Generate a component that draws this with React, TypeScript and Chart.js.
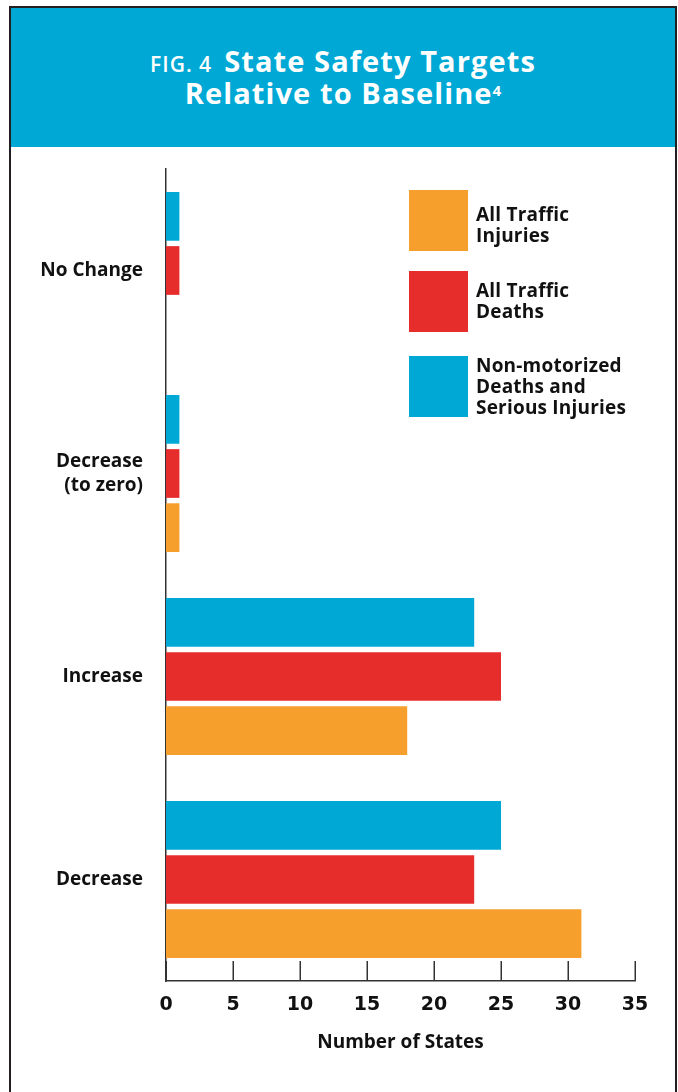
import { useEffect, useRef } from "react";
import { Chart, registerables } from "chart.js";

Chart.register(...registerables);

// Categories, top to bottom
const categories: (string | string[])[] = [
  "No Change",
  ["Decrease", "(to zero)"],
  "Increase",
  "Decrease",
];

// Number of states per category, per target type
const nonMotorized = [1, 1, 23, 25];
const trafficDeaths = [1, 1, 25, 23];
const trafficInjuries = [0, 1, 18, 31];

const xTickValues = [0, 5, 10, 15, 20, 25, 30, 35];

const BLUE = "#00a8d5";
const RED = "#e72d2c";
const ORANGE = "#f79f2d";
const INK = "#111111";
const AXIS = "#333333";

const LABEL_FONT = "'Open Sans', sans-serif";
const TICK_FONT = "'DejaVu Sans', sans-serif";

const legendItems = [
  { color: ORANGE, lines: ["All Traffic", "Injuries"], top: 190, shift: 4 },
  { color: RED, lines: ["All Traffic", "Deaths"], top: 271, shift: -1 },
  { color: BLUE, lines: ["Non-motorized", "Deaths and", "Serious Injuries"], top: 356, shift: 0 },
];

// Short tick marks that rise from the x axis into the plot
const innerTicks = {
  id: "innerTicks",
  afterDatasetsDraw(chart: any) {
    const { ctx, chartArea } = chart;
    const x = chart.scales.x;
    ctx.save();
    ctx.strokeStyle = AXIS;
    ctx.lineWidth = 1.5;
    for (const v of xTickValues) {
      const px = Math.round(x.getPixelForValue(v)) + 0.25;
      ctx.beginPath();
      ctx.moveTo(px, chartArea.bottom);
      ctx.lineTo(px, chartArea.bottom - 20);
      ctx.stroke();
    }
    ctx.restore();
  },
};

function StateTargetsChart() {
  const canvasRef = useRef<HTMLCanvasElement | null>(null);

  useEffect(() => {
    if (!canvasRef.current) return;
    const chart = new Chart(canvasRef.current, {
      type: "bar",
      data: {
        labels: categories,
        datasets: [
          { label: "Non-motorized Deaths and Serious Injuries", data: nonMotorized, backgroundColor: BLUE },
          { label: "All Traffic Deaths", data: trafficDeaths, backgroundColor: RED },
          { label: "All Traffic Injuries", data: trafficInjuries, backgroundColor: ORANGE },
        ],
      },
      options: {
        indexAxis: "y",
        responsive: false,
        animation: false,
        layout: { padding: { top: 19, right: 43, left: 0, bottom: 0 } },
        datasets: { bar: { categoryPercentage: 0.8, barPercentage: 0.9 } },
        plugins: { legend: { display: false }, tooltip: { enabled: false } },
        scales: {
          x: {
            min: 0,
            max: 35,
            afterBuildTicks: (scale: any) => {
              scale.ticks = xTickValues.map((v) => ({ value: v }));
            },
            afterFit: (scale: any) => {
              scale.height = 111;
            },
            grid: { display: false, drawTicks: false },
            border: { display: true, color: AXIS, width: 1.5 },
            ticks: {
              color: INK,
              padding: 13,
              font: { family: TICK_FONT, size: 19, weight: "bold" },
            },
            title: {
              display: true,
              text: "Number of States",
              color: INK,
              font: { family: LABEL_FONT, size: 19, weight: "bold" },
              padding: { top: 14, bottom: 38 },
            },
          },
          y: {
            afterFit: (scale: any) => {
              scale.width = 166;
              scale.paddingTop = 0;
              scale.paddingBottom = 0;
            },
            grid: { display: false, drawTicks: false },
            border: { display: true, color: AXIS, width: 1.5 },
            ticks: {
              color: INK,
              padding: 23,
              font: { family: LABEL_FONT, size: 19, weight: "bold", lineHeight: 1.3 },
            },
          },
        },
      },
      plugins: [innerTicks],
    });
    return () => chart.destroy();
  }, []);

  return (
    <canvas
      ref={canvasRef}
      width={678}
      height={942}
      style={{ position: "absolute", left: 0, top: 150, width: 678, height: 942 }}
    />
  );
}

export default function App() {
  return (
    <div
      style={{
        position: "fixed",
        left: 0,
        top: 0,
        width: 678,
        height: 1092,
        background: "#ffffff",
        overflow: "hidden",
      }}
    >
      {/* Frame and title band */}
      <div
        style={{
          position: "absolute",
          left: 9,
          top: 6,
          width: 668,
          height: 1100,
          border: "2px solid #231f20",
          boxSizing: "border-box",
        }}
      >
        <div
          style={{
            position: "absolute",
            left: 0,
            top: 0,
            right: 0,
            height: 139,
            background: BLUE,
            color: "#ffffff",
            fontFamily: LABEL_FONT,
            fontWeight: 700,
            textAlign: "center",
          }}
        >
          <div
            style={{
              position: "absolute",
              left: 0,
              right: 0,
              top: 37,
              fontSize: 29,
              lineHeight: "32px",
              letterSpacing: "1.1px",
              whiteSpace: "nowrap",
            }}
          >
            <span style={{ fontSize: 21, fontWeight: 600, letterSpacing: "1px", marginRight: 12 }}>FIG. 4</span>
            State Safety Targets
          </div>
          <div
            style={{
              position: "absolute",
              left: 0,
              right: 0,
              top: 69,
              fontSize: 29,
              lineHeight: "32px",
              letterSpacing: "1.1px",
              whiteSpace: "nowrap",
            }}
          >
            Relative to Baseline
            <sup style={{ fontSize: 15, verticalAlign: "top", position: "relative", top: -3, letterSpacing: 0 }}>4</sup>
          </div>
        </div>
      </div>

      <StateTargetsChart />

      {/* Legend */}
      {legendItems.map((item, i) => (
        <div
          key={i}
          style={{
            position: "absolute",
            left: 409,
            top: item.top,
            height: 61,
            display: "flex",
            alignItems: "center",
          }}
        >
          <div style={{ width: 59, height: 61, background: item.color, flex: "none" }} />
          <div
            style={{
              marginLeft: 8,
              position: "relative",
              top: item.shift,
              fontFamily: LABEL_FONT,
              fontWeight: 700,
              fontSize: 19,
              lineHeight: "21px",
              letterSpacing: "0.2px",
              color: INK,
              whiteSpace: "nowrap",
            }}
          >
            {item.lines.map((l, j) => (
              <div key={j}>{l}</div>
            ))}
          </div>
        </div>
      ))}
    </div>
  );
}
